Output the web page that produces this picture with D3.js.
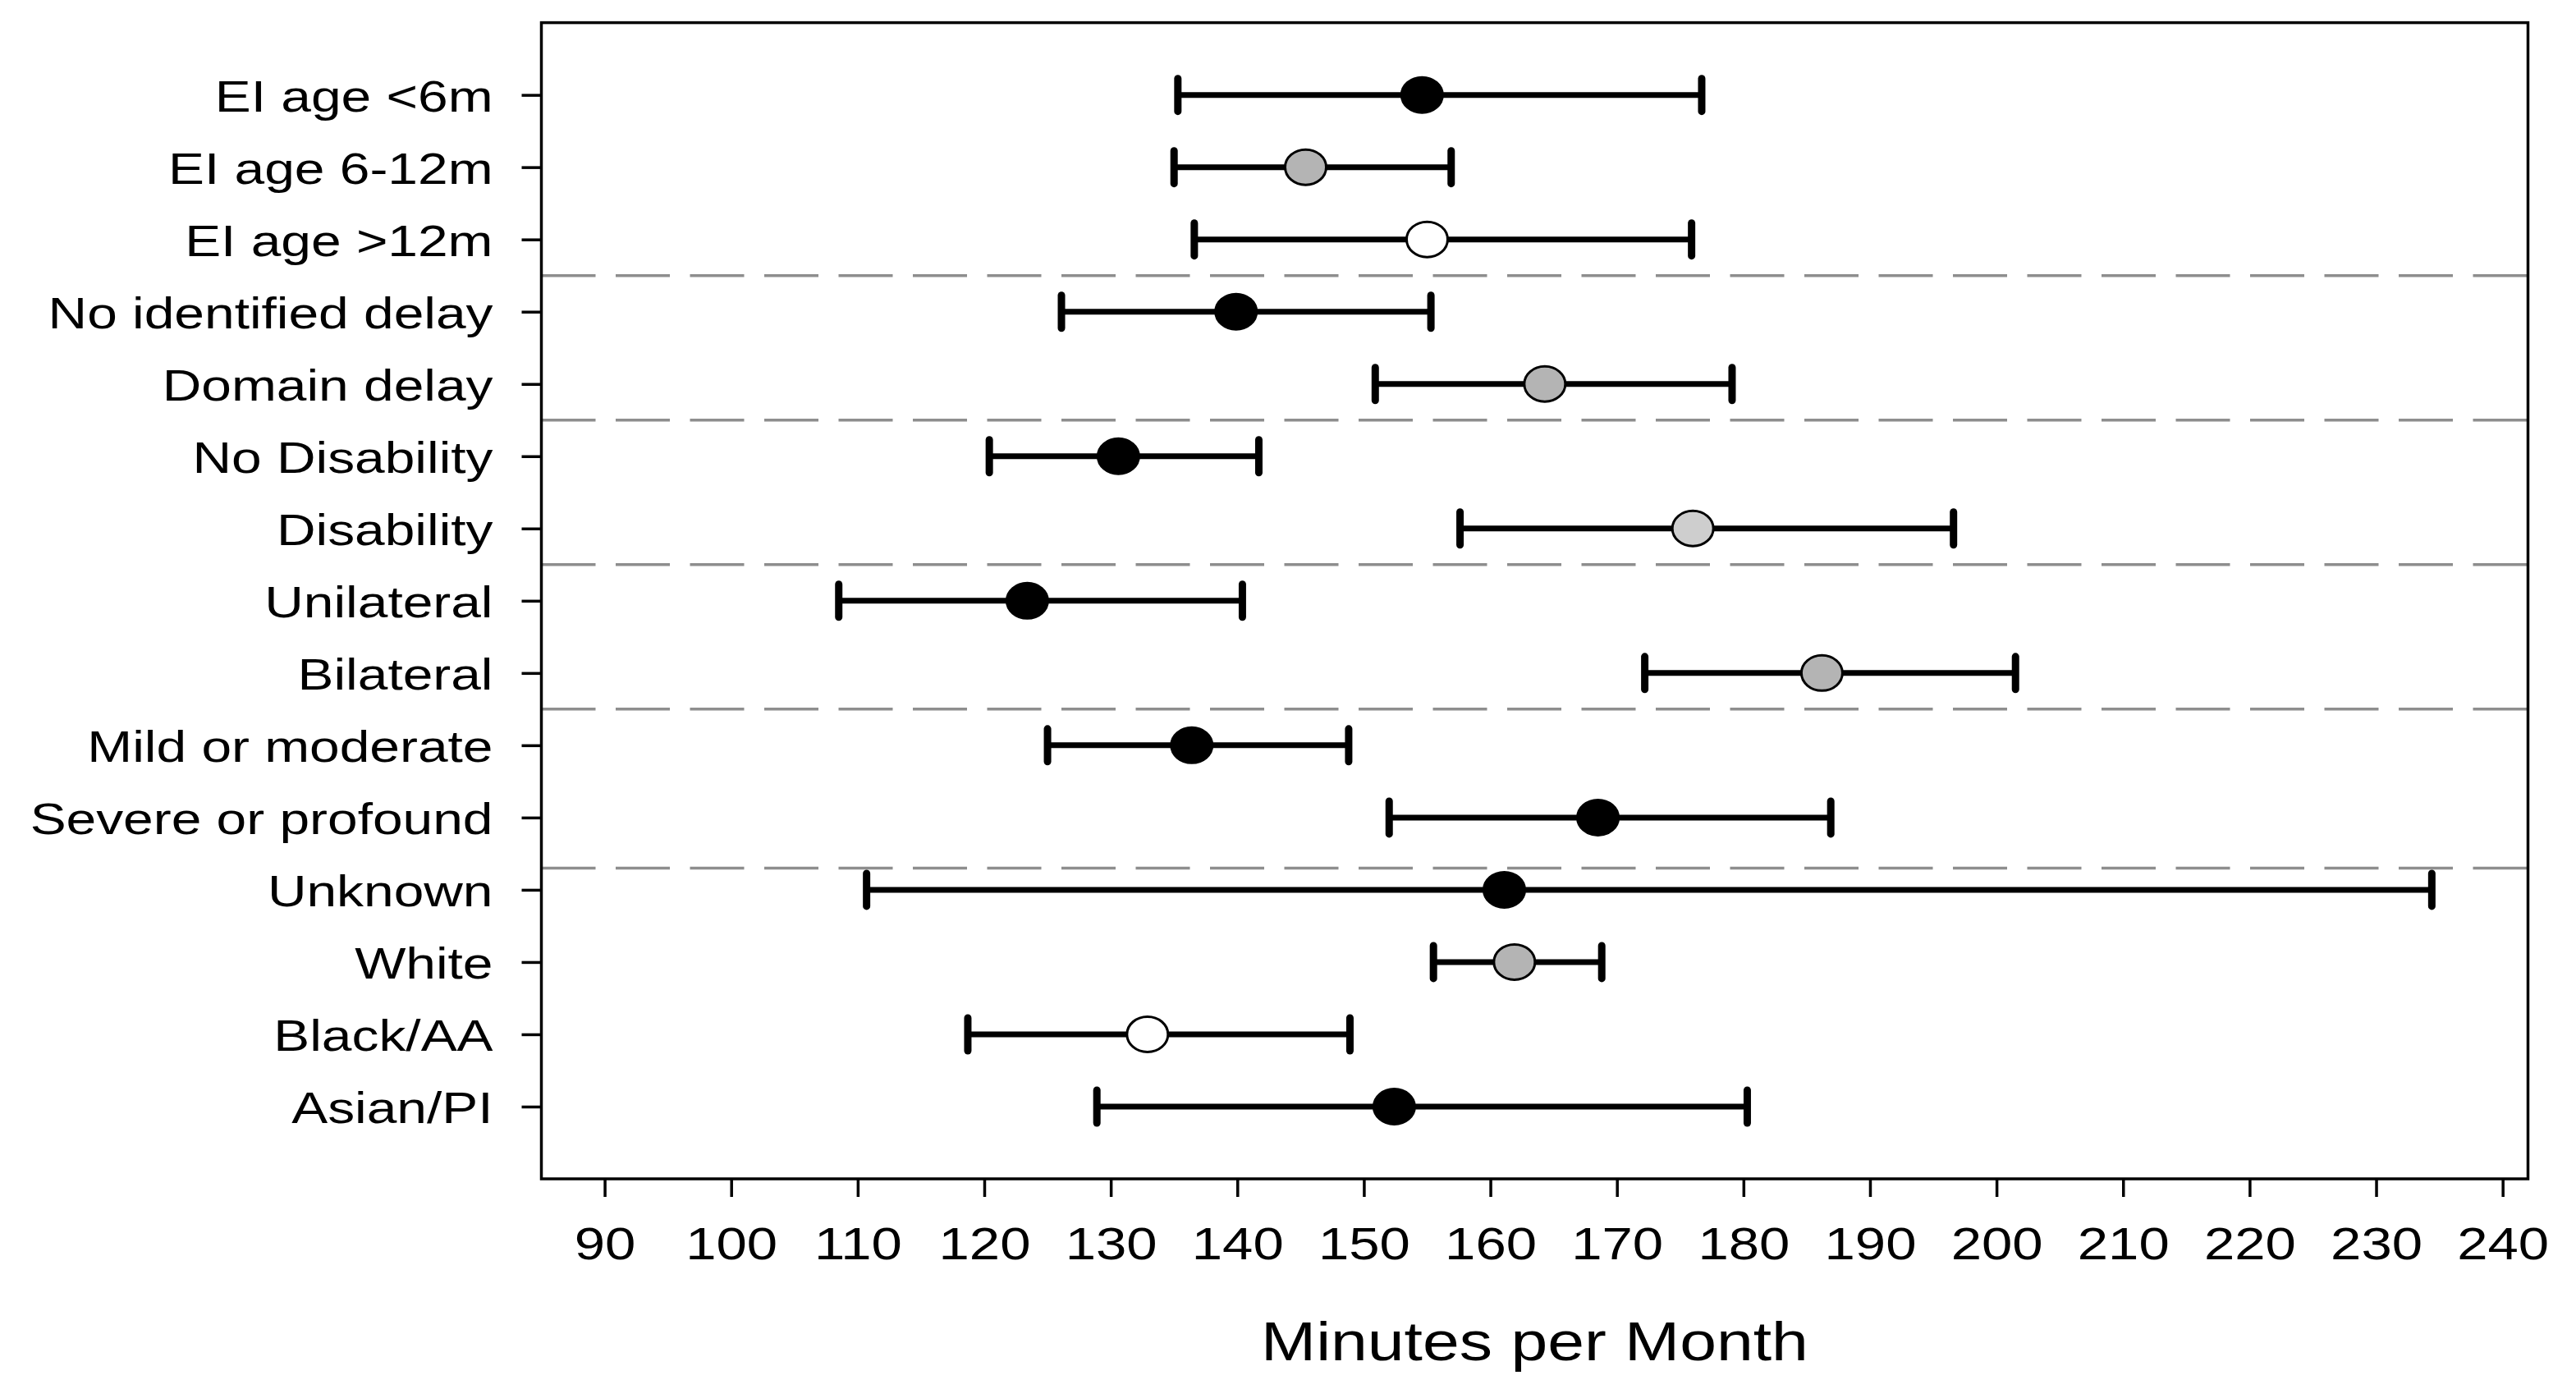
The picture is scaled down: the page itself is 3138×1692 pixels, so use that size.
<!DOCTYPE html>
<html lang="en">
<head>
    <meta charset="utf-8">
    <script type="text/javascript" src="https://d3js.org/d3.v7.min.js"></script>
    <style>
        body { margin: 0; background: #fff; }
        text { font-family: "Liberation Sans", Arial, sans-serif; fill: #000; }
    </style>
</head>

<body>
    <script type="text/javascript">
        let w = 3138;
        let h = 1692;

        // groups, top to bottom
        let labels = ["EI age <6m", "EI age 6-12m", "EI age >12m", "No identified delay", "Domain delay",
            "No Disability", "Disability", "Unilateral", "Bilateral", "Mild or moderate",
            "Severe or profound", "Unknown", "White", "Black/AA", "Asian/PI"];
        let means = [154.6, 145.4, 155.0, 139.9, 164.3, 130.6, 176.0, 123.4, 186.2, 136.4, 168.5, 161.1, 161.9, 132.9, 152.4];
        let lower = [135.3, 135.0, 136.6, 126.1, 150.9, 120.4, 157.6, 108.5, 172.2, 125.0, 152.0, 110.7, 155.5, 118.7, 128.9];
        let upper = [176.7, 156.9, 175.9, 155.3, 179.1, 141.7, 196.6, 140.4, 201.5, 148.8, 186.9, 234.4, 168.8, 148.9, 180.3];
        let fills = ["black", "gray", "white", "black", "gray", "black", "light", "black", "gray", "black",
            "black", "black", "gray", "white", "black"];
        // dashed separators between blocks (row positions)
        let separators = [2.5, 4.5, 6.5, 8.5, 10.7];
        let xTicks = d3.range(90, 241, 10);

        let fillColor = { black: "#000", gray: "#b4b4b4", light: "#cecece", white: "#fff" };
        let stretch = 1.22; // text in the picture is stretched horizontally

        let svg = d3.select("body").append("svg")
            .attr("width", w)
            .attr("height", h);

        let x = d3.scaleLinear().domain([85, 242]).range([659.5, 3079.5]);
        let y = d3.scaleLinear().domain([-1, 15]).range([27.6, 1436]);

        // separators
        svg.selectAll("line.sep")
            .data(separators)
            .join("line")
            .attr("class", "sep")
            .attr("x1", x(85))
            .attr("x2", x(242))
            .attr("y1", d => y(d))
            .attr("y2", d => y(d))
            .attr("stroke", "#8e8e8e")
            .attr("stroke-width", 3.5)
            .attr("stroke-dasharray", "66,24.5");

        // frame
        svg.append("rect")
            .attr("x", x(85))
            .attr("y", y(-1))
            .attr("width", x(242) - x(85))
            .attr("height", y(15) - y(-1))
            .attr("fill", "none")
            .attr("stroke", "#000")
            .attr("stroke-width", 3.5);

        // x axis
        let xAxis = svg.append("g")
            .attr("transform", "translate(0," + y(15) + ")")
            .call(d3.axisBottom(x).tickValues(xTicks).tickSize(22));
        xAxis.select(".domain").remove();
        xAxis.selectAll("line").attr("stroke", "#000").attr("stroke-width", 3.5);
        xAxis.selectAll("text")
            .attr("y", 98)
            .attr("dy", 0)
            .attr("font-size", 55)
            .attr("transform", "scale(" + stretch + ",1)");

        // y axis
        let yAxis = svg.append("g")
            .attr("transform", "translate(" + x(85) + ",0)")
            .call(d3.axisLeft(y).tickValues(d3.range(labels.length)).tickFormat(i => labels[i]).tickSize(24));
        yAxis.select(".domain").remove();
        yAxis.selectAll("line").attr("stroke", "#000").attr("stroke-width", 3.5);
        yAxis.selectAll("text")
            .attr("x", -59 / stretch)
            .attr("dy", "0.36em")
            .attr("font-size", 54)
            .attr("transform", "scale(" + stretch + ",1)");

        // axis title
        svg.append("g")
            .attr("transform", "translate(" + (x(85) + x(242)) / 2 + ",1657) scale(" + stretch + ",1)")
            .append("text")
            .attr("text-anchor", "middle")
            .attr("font-size", 66)
            .text("Minutes per Month");

        let idx = d3.range(labels.length);

        // error bars
        svg.selectAll("line.bar")
            .data(idx)
            .join("line")
            .attr("class", "bar")
            .attr("x1", i => x(lower[i]))
            .attr("x2", i => x(upper[i]))
            .attr("y1", i => y(i))
            .attr("y2", i => y(i))
            .attr("stroke", "#000")
            .attr("stroke-width", 7);

        let caps = [];
        idx.forEach(i => { caps.push([i, lower[i]]); caps.push([i, upper[i]]); });
        svg.selectAll("line.cap")
            .data(caps)
            .join("line")
            .attr("class", "cap")
            .attr("x1", d => x(d[1]))
            .attr("x2", d => x(d[1]))
            .attr("y1", d => y(d[0]) - 20)
            .attr("y2", d => y(d[0]) + 20)
            .attr("stroke", "#000")
            .attr("stroke-width", 9)
            .attr("stroke-linecap", "round");

        // means
        svg.selectAll("ellipse")
            .data(idx)
            .join("ellipse")
            .attr("cx", i => x(means[i]))
            .attr("cy", i => y(i))
            .attr("rx", 25)
            .attr("ry", 21.5)
            .attr("fill", i => fillColor[fills[i]])
            .attr("stroke", "#000")
            .attr("stroke-width", 3);
    </script>
</body>
</html>
